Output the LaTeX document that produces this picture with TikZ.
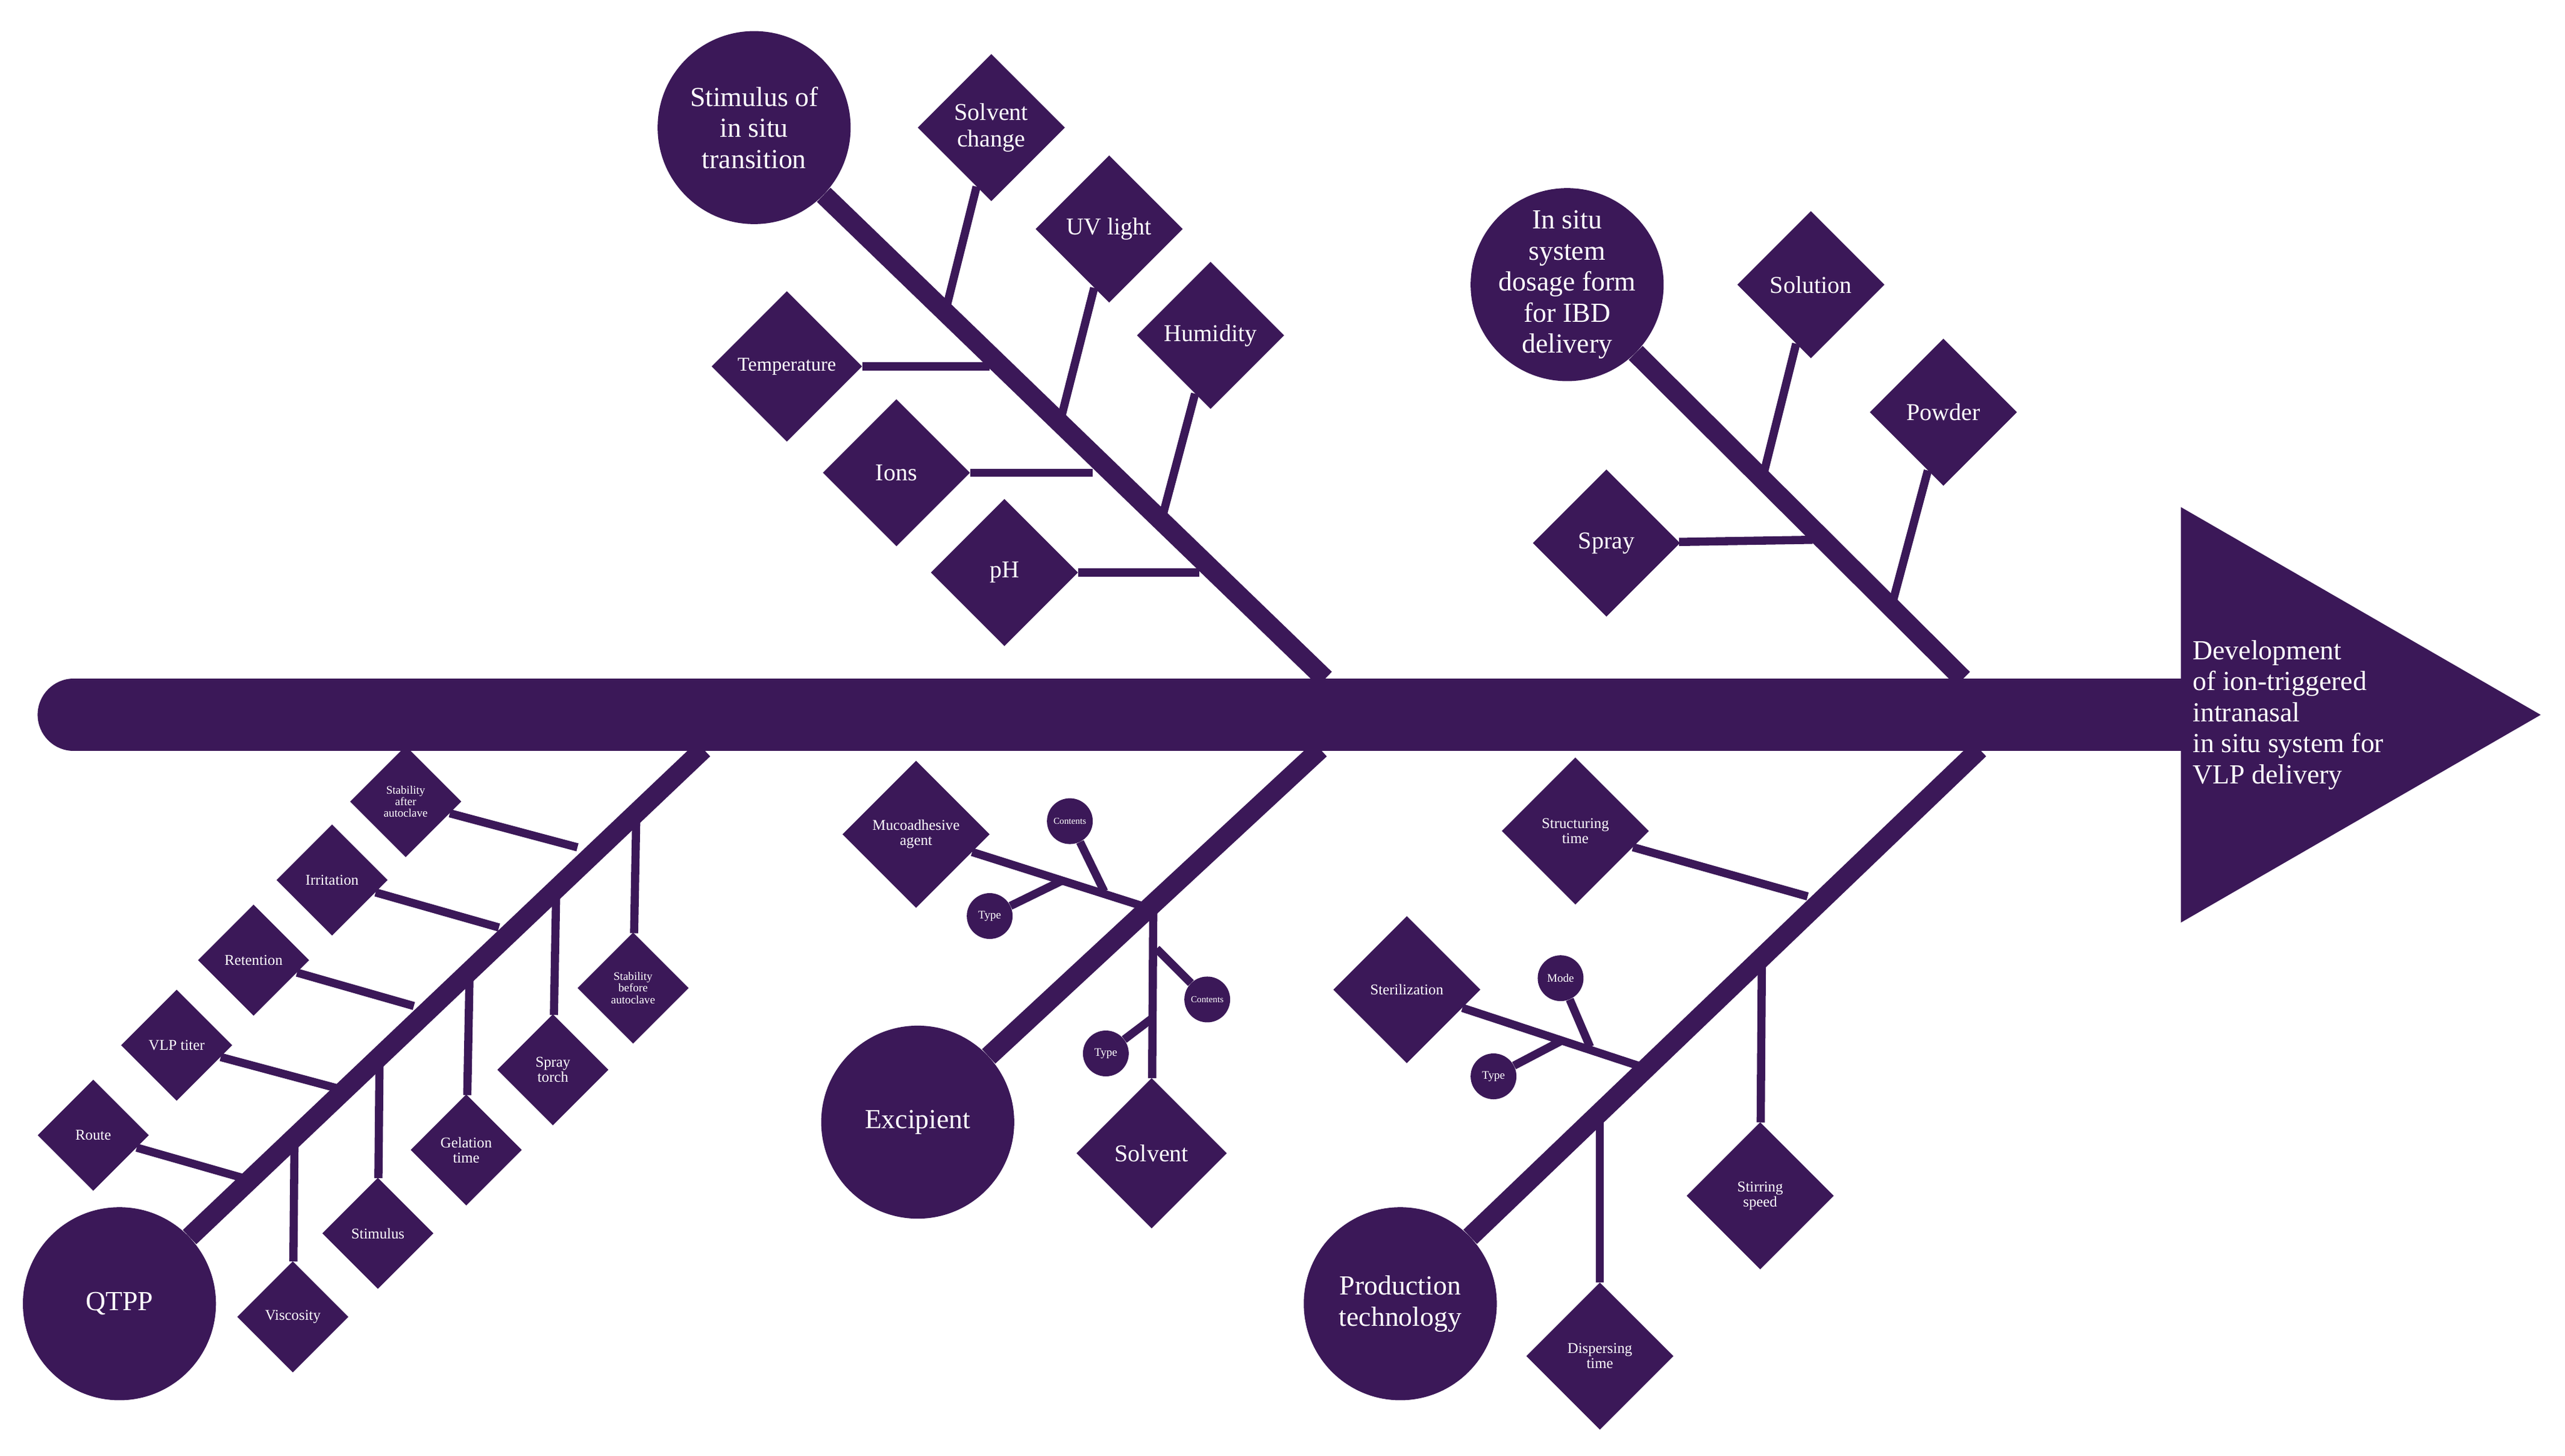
\documentclass[tikz,border=0pt]{standalone}
\usepackage{fontspec}
\setmainfont{Liberation Serif}
\usetikzlibrary{shapes.geometric}
\definecolor{pp}{HTML}{3B1858}
\begin{document}
\begin{tikzpicture}[x=0.05cm,y=-0.05cm,
 dm/.style={diamond,fill=pp,inner sep=0pt,minimum width=#1*0.1cm,minimum height=#1*0.1cm},
 cc/.style={circle,fill=pp,inner sep=0pt,minimum size=#1*0.1cm},
 tB/.style={text=white,align=center,font=\fontsize{21}{23}\selectfont},
 tM/.style={text=white,align=center,font=\fontsize{17}{18}\selectfont},
 tS/.style={text=white,align=center,font=\fontsize{13}{13}\selectfont},
 tT/.style={text=white,align=center,font=\fontsize{10}{10}\selectfont},
 tC/.style={text=white,align=center,font=\fontsize{24}{27}\selectfont},
 bone/.style={draw=pp,line width=0.6cm},
 sub/.style={draw=pp,line width=0.25cm}]
\useasboundingbox (0,0) rectangle (1568,890);
% main spine
\coordinate (s0) at (45,437); \coordinate (s1) at (1340,437);
\draw[pp,line width=2.2cm,line cap=round] (s0) -- (s1);
\node[fill=pp,isosceles triangle,isosceles triangle apex angle=60,inner sep=0pt,minimum height=11cm,anchor=west] (head) at (1333,437) {};
\node[text=white,align=left,anchor=west,font=\fontsize{24}{27}\selectfont] (htxt) at (1338,437) {Development\\of ion-triggered\\intranasal\\in situ system for\\VLP delivery};
% ===== upper branch 1
\node[cc=59] (c1) at (461,78) {}; \node[tC] at (c1) {Stimulus of\\in situ\\transition};
\coordinate (e1) at (810,415);
\draw[bone] (c1) -- (e1);
\node[dm=45] (d11) at (606,78) {}; \node[tB] at (d11) {Solvent\\change};
\node[dm=45] (d12) at (678,140) {}; \node[tB] at (d12) {UV light};
\node[dm=45] (d13) at (740,205) {}; \node[tB] at (d13) {Humidity};
\node[dm=46] (d14) at (481,224) {}; \node[tM] at (d14) {Temperature};
\node[dm=45] (d15) at (548,289) {}; \node[tB] at (d15) {Ions};
\node[dm=45] (d16) at (614,350) {}; \node[tB] at (d16) {pH};
\coordinate (b11) at (578,190); \coordinate (b12) at (648,258); \coordinate (b13) at (710,318);
\coordinate (b14) at (605,224); \coordinate (b15) at (668,289); \coordinate (b16) at (733,350);
\draw[sub] (d11) -- (b11); \draw[sub] (d12) -- (b12); \draw[sub] (d13) -- (b13);
\draw[sub] (d14) -- (b14); \draw[sub] (d15) -- (b15); \draw[sub] (d16) -- (b16);
% ===== upper branch 2
\node[cc=59] (c2) at (958,174) {}; \node[tC] at (c2) {In situ\\system\\dosage form\\for IBD\\delivery};
\coordinate (e2) at (1200,415);
\draw[bone] (c2) -- (e2);
\node[dm=45] (d21) at (1107,174) {}; \node[tB] at (d21) {Solution};
\node[dm=45] (d22) at (1188,252) {}; \node[tB] at (d22) {Powder};
\node[dm=45] (d23) at (982,332) {}; \node[tB] at (d23) {Spray};
\coordinate (b21) at (1078,290); \coordinate (b22) at (1157,368); \coordinate (b23) at (1108,330);
\draw[sub] (d21) -- (b21); \draw[sub] (d22) -- (b22); \draw[sub] (d23) -- (b23);
% ===== lower branch QTPP
\node[cc=59] (c3) at (73,797) {}; \node[tC] at (c3) {QTPP};
\coordinate (e3) at (430,458);
\draw[bone] (c3) -- (e3);
\node[dm=34] (q1) at (57,694) {}; \node[tS] at (q1) {Route};
\node[dm=34] (q2) at (108,639) {}; \node[tS] at (q2) {VLP titer};
\node[dm=34] (q3) at (155,587) {}; \node[tS] at (q3) {Retention};
\node[dm=34] (q4) at (203,538) {}; \node[tS] at (q4) {Irritation};
\node[dm=34] (q5) at (248,490) {}; \node[tT] at (q5) {Stability\\after\\autoclave};
\node[dm=34] (q6) at (179,805) {}; \node[tS] at (q6) {Viscosity};
\node[dm=34] (q7) at (231,754) {}; \node[tS] at (q7) {Stimulus};
\node[dm=34] (q8) at (285,703) {}; \node[tS] at (q8) {Gelation\\time};
\node[dm=34] (q9) at (338,654) {}; \node[tS] at (q9) {Spray\\torch};
\node[dm=34] (q10) at (387,604) {}; \node[tT] at (q10) {Stability\\before\\autoclave};
\coordinate (k1) at (148,720); \coordinate (k2) at (205,665); \coordinate (k3) at (253,615);
\coordinate (k4) at (305,567); \coordinate (k5) at (353,518);
\coordinate (k6) at (180,700); \coordinate (k7) at (232,650); \coordinate (k8) at (287,598);
\coordinate (k9) at (340,545); \coordinate (k10) at (389,497);
\foreach \i in {1,...,10} {\draw[sub] (q\i) -- (k\i);}
% ===== lower branch Excipient
\node[cc=59] (c4) at (561,686) {}; \node[tC] at (c4) {Excipient};
\coordinate (e4) at (807,458);
\draw[bone] (c4) -- (e4);
\node[dm=45] (x1) at (560,510) {}; \node[tS] at (x1) {Mucoadhesive\\agent};
\node[dm=46] (x2) at (704,705) {}; \node[tB] at (x2) {Solvent};
\node[cc=14] (x3) at (654,502) {}; \node[tT,font=\fontsize{8}{8}\selectfont] at (x3) {Contents};
\node[cc=14] (x4) at (605,560) {}; \node[tT] at (x4) {Type};
\node[cc=14] (x5) at (738,611) {}; \node[tT,font=\fontsize{8}{8}\selectfont] at (x5) {Contents};
\node[cc=14] (x6) at (676,644) {}; \node[tT] at (x6) {Type};
\coordinate (xb) at (705,556); \coordinate (xm1) at (675,545); \coordinate (xm2) at (650,538);
\coordinate (xv1) at (707,580); \coordinate (xv2) at (705,622);
\draw[sub] (x1) -- (xb); \draw[sub] (xb) -- (x2);
\draw[sub] (x3) -- (xm1); \draw[sub] (x4) -- (xm2);
\draw[sub] (x5) -- (xv1); \draw[sub] (x6) -- (xv2);
% ===== lower branch Production
\node[cc=59] (c5) at (856,797) {}; \node[tC] at (c5) {Production\\technology};
\coordinate (e5) at (1210,458);
\draw[bone] (c5) -- (e5);
\node[dm=45] (p1) at (963,508) {}; \node[tS] at (p1) {Structuring\\time};
\node[dm=45] (p2) at (1076,731) {}; \node[tS] at (p2) {Stirring\\speed};
\node[dm=45] (p3) at (978,829) {}; \node[tS] at (p3) {Dispersing\\time};
\node[dm=45] (p4) at (860,605) {}; \node[tS] at (p4) {Sterilization};
\node[cc=14] (p5) at (954,598) {}; \node[tT] at (p5) {Mode};
\node[cc=14] (p6) at (913,658) {}; \node[tT] at (p6) {Type};
\coordinate (pb1) at (1105,548); \coordinate (pb2) at (1077,590); \coordinate (pb3) at (978,685);
\coordinate (pb4) at (1003,652); \coordinate (pm1) at (972,640); \coordinate (pm2) at (955,636);
\draw[sub] (p1) -- (pb1); \draw[sub] (p2) -- (pb2); \draw[sub] (p3) -- (pb3);
\draw[sub] (p4) -- (pb4); \draw[sub] (p5) -- (pm1); \draw[sub] (p6) -- (pm2);
\end{tikzpicture}
\end{document}
